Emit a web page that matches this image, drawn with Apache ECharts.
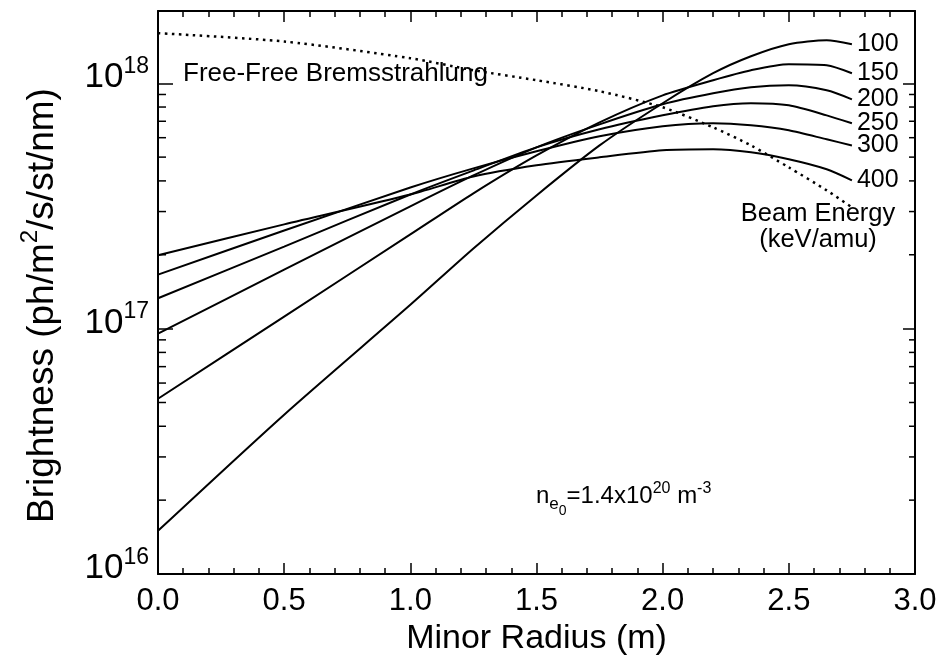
<!DOCTYPE html>
<html><head><meta charset="utf-8">
<script src="https://cdn.jsdelivr.net/npm/echarts@6/dist/echarts.min.js"></script>
<style>html,body{margin:0;padding:0;background:#fff}#c{width:942px;height:662px}</style>
</head><body><div id="c"></div>
<script>
// Minor radius sample positions (m)
const radius = [0, 0.5, 1.0, 1.25, 1.5, 1.75, 2.0, 2.2, 2.35, 2.5, 2.65, 2.75];
// Beam emission brightness for each beam energy (ph/m^2/s/st/nm)
const b100 = [1.50e16, 4.46e16, 1.25e17, 2.12e17, 3.49e17, 5.58e17, 8.29e17, 1.099e18, 1.289e18, 1.443e18, 1.498e18, 1.443e18];
const b150 = [5.18e16, 1.12e17, 2.42e17, 3.56e17, 5.08e17, 6.93e17, 8.93e17, 1.029e18, 1.130e18, 1.196e18, 1.184e18, 1.099e18];
const b200 = [9.54e16, 1.74e17, 3.15e17, 4.21e17, 5.48e17, 6.80e17, 8.21e17, 9.10e17, 9.63e17, 9.81e17, 9.36e17, 8.60e17];
const b250 = [1.33e17, 2.16e17, 3.52e17, 4.41e17, 5.48e17, 6.49e17, 7.40e17, 8.06e17, 8.29e17, 8.13e17, 7.40e17, 6.87e17];
const b300 = [1.66e17, 2.51e17, 3.76e17, 4.50e17, 5.28e17, 6.08e17, 6.68e17, 6.87e17, 6.74e17, 6.43e17, 5.91e17, 5.58e17];
const b400 = [1.99e17, 2.66e17, 3.52e17, 4.17e17, 4.63e17, 4.99e17, 5.33e17, 5.38e17, 5.23e17, 4.90e17, 4.46e17, 4.02e17];
// Free-free bremsstrahlung
const brems = [1.60e18, 1.48e18, 1.265e18, 1.130e18, 1.029e18, 9.28e17, 7.98e17, 6.61e17, 5.58e17, 4.54e17, 3.66e17, 3.12e17];
const energyLabels = ['100', '150', '200', '250', '300', '400'];
const beamSets = [b100, b150, b200, b250, b300, b400];
// Axis ranges / ticks
const xMin = 0, xMax = 3, xStep = 0.5;
const yMin = 1e16, yMax = 1.97e18;
const yMinorTicks = [2e16, 3e16, 4e16, 5e16, 6e16, 7e16, 8e16, 9e16, 2e17, 3e17, 4e17, 5e17, 6e17, 7e17, 8e17, 9e17];

const FONT = '"Liberation Sans", Arial, Helvetica, sans-serif';
const zip = (xs, ys) => xs.map((x, i) => [x, ys[i]]);

const lineSeries = beamSets.map((arr, i) => ({
  type: 'line', name: energyLabels[i], data: zip(radius, arr),
  xAxisIndex: 0, yAxisIndex: 0,
  symbol: 'none', smooth: 0.25,
  lineStyle: { color: '#000', width: 2 },
  endLabel: { show: true, formatter: energyLabels[i], color: '#000', fontSize: 25, fontFamily: FONT, distance: 5 },
  z: 3
}));

const chart = echarts.init(document.getElementById('c'));
chart.setOption({
  animation: false,
  backgroundColor: '#fff',
  grid: { left: 158, right: 27, top: 11, bottom: 88, containLabel: false, outerBoundsMode: 'none' },
  xAxis: [{
    type: 'value', min: xMin, max: xMax, interval: xStep, position: 'bottom',
    axisLine: { show: true, onZero: false, lineStyle: { color: '#000', width: 2 } },
    axisTick: { show: true, inside: true, length: 11, lineStyle: { color: '#000', width: 1.5 } },
    minorTick: { show: true, splitNumber: 5, length: 6, lineStyle: { color: '#000', width: 1.5 } },
    splitLine: { show: false },
    axisLabel: { color: '#000', fontSize: 31, fontFamily: FONT, margin: 12, formatter: v => v.toFixed(1) },
    name: 'Minor Radius (m)', nameLocation: 'middle', nameGap: 42,
    nameTextStyle: { color: '#000', fontSize: 34, fontFamily: FONT }
  }, {
    type: 'value', min: xMin, max: xMax, interval: xStep, position: 'top',
    axisLine: { show: true, onZero: false, lineStyle: { color: '#000', width: 2 } },
    axisTick: { show: true, inside: true, length: 11, lineStyle: { color: '#000', width: 1.5 } },
    minorTick: { show: true, splitNumber: 5, length: 6, lineStyle: { color: '#000', width: 1.5 } },
    splitLine: { show: false }, axisLabel: { show: false }
  }],
  yAxis: [{
    type: 'log', logBase: 10, min: yMin, max: yMax, position: 'left',
    axisLine: { show: true, onZero: false, lineStyle: { color: '#000', width: 2 } },
    axisTick: { show: true, inside: true, length: 15, lineStyle: { color: '#000', width: 1.5 } },
    splitLine: { show: false },
    axisLabel: {
      showMaxLabel: false, margin: 9, color: '#000', fontFamily: FONT,
      formatter: v => {
        const e = Math.round(Math.log10(v));
        if (Math.abs(v - Math.pow(10, e)) / v > 1e-6) return '';
        return '{a|10}{b|' + e + '}';
      },
      rich: {
        a: { fontSize: 35, lineHeight: 35, fontFamily: FONT, color: '#000', padding: [5, 0, 16, 0] },
        b: { fontSize: 23, lineHeight: 23, fontFamily: FONT, color: '#000', padding: [0, 0, 33, 0] }
      }
    },
    name: '{m|Brightness (ph/m}{s|2}{m|/s/st/nm)}',
    nameLocation: 'middle', nameRotate: 90, nameGap: 100,
    nameTextStyle: {
      color: '#000', fontFamily: FONT, padding: [0, 26, 0, 0],
      rich: {
        m: { fontSize: 37, lineHeight: 37, fontFamily: FONT, color: '#000', padding: [6, 0, 0, 0] },
        s: { fontSize: 24, lineHeight: 24, fontFamily: FONT, color: '#000', padding: [0, 0, 19, 0] }
      }
    }
  }, {
    type: 'log', logBase: 10, min: yMin, max: yMax, position: 'right',
    axisLine: { show: true, onZero: false, lineStyle: { color: '#000', width: 2 } },
    axisTick: { show: true, inside: true, length: 12, lineStyle: { color: '#000', width: 1.5 } },
    splitLine: { show: false }, axisLabel: { show: false }
  }],
  series: [
    ...lineSeries,
    {
      type: 'line', name: 'Free-Free Bremsstrahlung', data: zip(radius, brems),
      symbol: 'none', smooth: 0.25,
      lineStyle: { color: '#000', width: 2.5, type: [2.5, 4.5] }, z: 2
    },
    {
      type: 'custom', name: 'minorTicks', data: yMinorTicks.map(v => [xMin, v]),
      xAxisIndex: 0, yAxisIndex: 0, silent: true, clip: false,
      renderItem: (params, api) => {
        const v = api.value(1);
        const pl = api.coord([xMin, v]);
        const pr = api.coord([xMax, v]);
        return {
          type: 'group', children: [
            { type: 'line', shape: { x1: pl[0], y1: pl[1], x2: pl[0] + 8, y2: pl[1] }, style: { stroke: '#000', lineWidth: 1.5 } },
            { type: 'line', shape: { x1: pr[0] - 6, y1: pr[1], x2: pr[0], y2: pr[1] }, style: { stroke: '#000', lineWidth: 1.5 } }
          ]
        };
      }
    }
  ],
  graphic: [
    { type: 'text', x: 183, y: 74, style: { text: 'Free-Free Bremsstrahlung', fontSize: 26, fontFamily: FONT, fill: '#000', align: 'left', verticalAlign: 'middle' } },
    { type: 'text', x: 818, y: 227, style: { text: 'Beam Energy\n(keV/amu)', fontSize: 25.5, lineHeight: 26, fontFamily: FONT, fill: '#000', align: 'center', verticalAlign: 'middle' } },
    { type: 'text', x: 536, y: 496, style: {
        text: '{n|n}{e|e}{z|0}{n|=1.4x10}{s|20}{n| m}{s|-3}', align: 'left', verticalAlign: 'middle', fill: '#000',
        rich: {
          n: { fontSize: 24, lineHeight: 24, fontFamily: FONT, fill: '#000', padding: [10, 0, 10, 0] },
          s: { fontSize: 16, lineHeight: 16, fontFamily: FONT, fill: '#000', padding: [7, 0, 21, 0] },
          e: { fontSize: 17, lineHeight: 17, fontFamily: FONT, fill: '#000', padding: [22, 0, 5, 0] },
          z: { fontSize: 14, lineHeight: 14, fontFamily: FONT, fill: '#000', padding: [30, 0, 0, 0] }
        }
    } }
  ]
});
</script>
</body></html>
